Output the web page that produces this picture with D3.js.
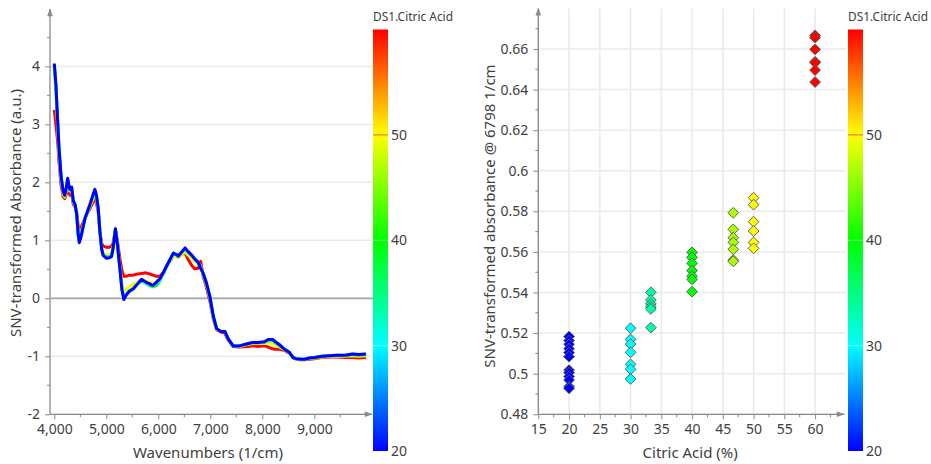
<!DOCTYPE html>
<html lang="en">
<head>
<meta charset="utf-8">
<title>Citric acid NIR spectra</title>
<script src="https://cdn.jsdelivr.net/npm/d3@7"></script>
<style>
  body { margin: 0; background: #fff; }
  svg text { font-family: "Segoe UI", "Noto Sans", sans-serif; fill: #404040; }
</style>
</head>
<body>
<script>
// ---- data ----
var wavenumbers = [4000,4030,4065,4090,4130,4170,4200,4230,4257,4280,4300,4333,4365,4400,4430,4460,4480,4510,4590,4685,
  4780,4810,4845,4877,4910,4940,5005,5060,5100,5130,5175,5215,5260,5300,5337,5380,5440,5516,5600,5677,
  5760,5837,5900,5965,6030,6100,6160,6230,6290,6340,6385,6450,6515,6580,6640,6700,6768,6815,6864,6928,
  6992,7056,7120,7200,7280,7345,7440,7560,7730,7817,7920,8042,8113,8200,8240,8330,8430,8520,8590,8650,
  8750,8815,8905,9010,9150,9289,9430,9590,9735,9850,9993];

var spec60 = [3.25,3.00,2.70,2.35,1.95, 1.75,1.72,1.80,1.90,1.82, 1.78,1.80,1.62,1.58,1.48, 1.25,1.18,1.22,1.38,1.55,
  1.72,1.65,1.48,1.15,0.95, 0.90,0.88,0.88,0.90,0.95, 1.18,0.98,0.70,0.48,0.38, 0.38,0.40,0.40,0.42,0.43,
  0.44,0.42,0.40,0.38,0.38, 0.45,0.55,0.65,0.74,0.72, 0.71,0.76,0.78,0.66,0.57, 0.51,0.52,0.64,0.38,0.18,
  -0.05,-0.35,-0.54,-0.58,-0.60, -0.72,-0.83,-0.84,-0.83,-0.82, -0.83,-0.82,-0.84,-0.87,-0.88, -0.88,-0.90,-0.95,-1.03,-1.05,
  -1.06,-1.06,-1.05,-1.04,-1.02, -1.01,-1.01,-1.02,-1.02,-1.03, -1.02];
var spec50 = [3.85,3.50,2.95,2.50,2.05, 1.80,1.75,1.85,2.00,1.90, 1.85,1.88,1.66,1.60,1.45, 1.15,1.05,1.12,1.38,1.58,
  1.80,1.72,1.52,1.15,0.88, 0.78,0.75,0.75,0.77,0.88, 1.18,0.92,0.55,0.25,0.12, 0.15,0.20,0.24,0.28,0.33,
  0.30,0.28,0.26,0.28,0.33, 0.44,0.55,0.66,0.74,0.72, 0.71,0.76,0.80,0.74,0.70, 0.64,0.58,0.56,0.41,0.23,
  0.00,-0.32,-0.53,-0.56,-0.56, -0.70,-0.82,-0.83,-0.79,-0.78, -0.78,-0.78,-0.77,-0.78,-0.81, -0.84,-0.89,-0.94,-1.03,-1.05,
  -1.05,-1.05,-1.04,-1.03,-1.01, -1.00,-1.00,-1.00,-0.99,-1.00, -0.99];
var spec40 = [4.00,3.65,3.02,2.58,2.10, 1.84,1.77,1.88,2.04,1.93, 1.87,1.90,1.67,1.61,1.45, 1.08,0.98,1.06,1.38,1.60,
  1.85,1.76,1.54,1.15,0.86, 0.75,0.71,0.72,0.74,0.87, 1.19,0.92,0.53,0.17,0.02, 0.07,0.13,0.17,0.24,0.30,
  0.26,0.22,0.20,0.22,0.30, 0.43,0.55,0.67,0.77,0.75, 0.72,0.79,0.85,0.78,0.73, 0.67,0.61,0.53,0.42,0.25,
  0.02,-0.31,-0.52,-0.57,-0.57, -0.70,-0.82,-0.82,-0.78,-0.77, -0.77,-0.76,-0.73,-0.73,-0.76, -0.82,-0.88,-0.93,-1.02,-1.04,
  -1.05,-1.05,-1.03,-1.02,-1.00, -0.99,-0.98,-0.99,-0.97,-0.98, -0.97];
var spec30 = [4.02,3.68,3.04,2.60,2.10, 1.85,1.78,1.89,2.05,1.94, 1.88,1.91,1.68,1.62,1.45, 1.09,0.97,1.05,1.38,1.61,
  1.86,1.77,1.55,1.15,0.85, 0.74,0.70,0.71,0.73,0.86, 1.20,0.92,0.52,0.16,0.00, 0.06,0.12,0.16,0.25,0.32,
  0.27,0.24,0.21,0.26,0.32, 0.44,0.56,0.68,0.78,0.76, 0.73,0.80,0.86,0.79,0.74, 0.68,0.62,0.53,0.43,0.26,
  0.03,-0.30,-0.52,-0.57,-0.57, -0.70,-0.82,-0.82,-0.78,-0.76, -0.76,-0.75,-0.72,-0.72,-0.75, -0.80,-0.88,-0.93,-1.02,-1.04,
  -1.05,-1.05,-1.03,-1.02,-1.00, -0.99,-0.98,-0.98,-0.96,-0.97, -0.96];
var spec20 = [4.05,3.70,3.05,2.60,2.10, 1.85,1.78,1.90,2.07,1.95, 1.88,1.92,1.68,1.62,1.45, 1.10,0.96,1.05,1.38,1.62,
  1.88,1.78,1.55,1.15,0.85, 0.74,0.69,0.70,0.72,0.86, 1.20,0.92,0.52,0.15,-0.02, 0.05,0.12,0.16,0.25,0.33,
  0.28,0.25,0.22,0.28,0.34, 0.45,0.56,0.68,0.78,0.76, 0.73,0.80,0.87,0.80,0.75, 0.68,0.62,0.52,0.43,0.26,
  0.03,-0.30,-0.52,-0.57,-0.57, -0.70,-0.82,-0.82,-0.78,-0.76, -0.76,-0.75,-0.71,-0.71,-0.74, -0.80,-0.88,-0.93,-1.02,-1.04,
  -1.05,-1.05,-1.03,-1.02,-1.00, -0.99,-0.98,-0.98,-0.96,-0.97, -0.96];
// drawn red first, blue last
var spectra = [[60, spec60], [50, spec50], [40, spec40], [30, spec30], [20, spec20]];

var acidLevels = [20, 30, 33.3, 40, 46.7, 50, 60];
var abs20 = [0.5183,0.5163,0.5145,0.5123,0.5104,0.5084,0.5018,0.5005,0.4986,0.4969,0.4936,0.4928];
var abs30 = [0.5224,0.5169,0.5146,0.5105,0.5046,0.5022,0.4974];
var abs33 = [0.5401,0.5363,0.5344,0.5330,0.5319,0.5227];
var abs40 = [0.5598,0.5573,0.5544,0.5508,0.5481,0.5465,0.5404];
var abs47 = [0.5793,0.5711,0.5670,0.5647,0.5613,0.5560,0.5554];
var abs50 = [0.5867,0.5833,0.5749,0.5703,0.5647,0.5618];
var abs60 = [0.6667,0.6656,0.6598,0.6537,0.6532,0.6496,0.6437];
var absGroups = [abs20, abs30, abs33, abs40, abs47, abs50, abs60];

var colorStops = [20, 30, 40, 50, 60];
var colorNames = ["#0000ff", "#00ffff", "#00ff00", "#ffff00", "#ff0000"];
var colorTicks = [20, 30, 40, 50];

// ---- page ----
var w = 931, h = 464;
var svg = d3.select("body").append("svg").attr("width", w).attr("height", h);

var color = d3.scaleLinear().domain(colorStops).range(colorNames);

svg.append("defs").append("marker")
   .attr("id", "arrow")
   .attr("viewBox", "0 0 10 10")
   .attr("refX", 9).attr("refY", 5)
   .attr("markerWidth", 14).attr("markerHeight", 8)
   .attr("markerUnits", "userSpaceOnUse")
   .attr("orient", "auto")
   .append("path")
   .attr("d", "M0,1.5 L10,5 L0,8.5 Z")
   .attr("fill", "#8a8a8a");

var grad = svg.select("defs").append("linearGradient")
   .attr("id", "jet").attr("x1", 0).attr("y1", 1).attr("x2", 0).attr("y2", 0);
grad.selectAll("stop").data(colorStops).enter().append("stop")
   .attr("offset", function(d) { return (d - 20) / 40; })
   .attr("stop-color", function(d) { return color(d); });

function numText(d) { return String(+d.toFixed(2)); }

// draw axes, grid, arrows for one panel
function panel(x, y, opt) {
  var g = svg.append("g");
  var x0 = x.range()[0], x1 = x.range()[1], y0 = y.range()[0], y1 = y.range()[1];

  if (opt.vgrid) {
    g.selectAll(".vg").data(opt.xTicks).enter().append("line")
     .attr("x1", function(d) { return x(d); }).attr("x2", function(d) { return x(d); })
     .attr("y1", y0).attr("y2", y1)
     .attr("stroke", "#e9e9e9").attr("stroke-width", 1.5);
  }
  g.selectAll(".hg").data(opt.yTicks).enter().append("line")
   .attr("x1", x0).attr("x2", x1 + 2)
   .attr("y1", function(d) { return y(d); }).attr("y2", function(d) { return y(d); })
   .attr("stroke", "#ebebeb").attr("stroke-width", 1.5);

  // minor ticks
  g.selectAll(".my").data(opt.yMinor).enter().append("line")
   .attr("x1", x0 - 3).attr("x2", x0)
   .attr("y1", function(d) { return y(d); }).attr("y2", function(d) { return y(d); })
   .attr("stroke", "#8a8a8a");
  g.selectAll(".mx").data(opt.xMinor).enter().append("line")
   .attr("x1", function(d) { return x(d); }).attr("x2", function(d) { return x(d); })
   .attr("y1", y0).attr("y2", y0 + 3)
   .attr("stroke", "#8a8a8a");

  var ax = g.append("g").attr("transform", "translate(0," + y0 + ")")
   .call(d3.axisBottom(x).tickValues(opt.xTicks).tickFormat(opt.xFormat).tickSize(5).tickPadding(5));
  var ay = g.append("g").attr("transform", "translate(" + x0 + ",0)")
   .call(d3.axisLeft(y).tickValues(opt.yTicks).tickFormat(opt.yFormat).tickSize(5).tickPadding(5));
  [ax, ay].forEach(function(a) {
    a.select(".domain").remove();
    a.selectAll("line").attr("stroke", "#8a8a8a");
    a.selectAll("text").attr("font-size", "14px").attr("fill", "#404040")
     .style("font-family", "'Segoe UI','Noto Sans',sans-serif");
  });

  g.append("line").attr("x1", x0).attr("x2", x1).attr("y1", y0).attr("y2", y0)
   .attr("stroke", "#8a8a8a").attr("stroke-width", 1.3).attr("marker-end", "url(#arrow)");
  g.append("line").attr("x1", x0).attr("x2", x0).attr("y1", y0).attr("y2", y1)
   .attr("stroke", "#8a8a8a").attr("stroke-width", 1.3).attr("marker-end", "url(#arrow)");

  svg.append("text").attr("x", (x0 + x1) / 2 + opt.xTitleDx).attr("y", 458)
   .attr("text-anchor", "middle").attr("font-size", "15px").text(opt.xTitle);
  svg.append("text").attr("transform", "translate(" + opt.yTitleX + "," + opt.yTitleY + ") rotate(-90)")
   .attr("text-anchor", "middle").attr("font-size", "15px").text(opt.yTitle);
  return g;
}

function colorbar(left) {
  var cy = d3.scaleLinear().domain([20, 60]).range([451, 29.5]);
  var g = svg.append("g");
  g.append("rect").attr("x", left).attr("y", cy(60)).attr("width", 15)
   .attr("height", cy(20) - cy(60)).attr("fill", "url(#jet)");
  g.selectAll(".ct").data(colorTicks.filter(function(d) { return d > 20; })).enter().append("line")
   .attr("x1", left).attr("x2", left + 15)
   .attr("y1", function(d) { return cy(d); }).attr("y2", function(d) { return cy(d); })
   .attr("stroke", function(d) { return d === 50 ? "#f05a3c" : "rgba(255,255,255,0.45)"; })
   .attr("stroke-width", 1);
  g.selectAll(".cl").data(colorTicks).enter().append("text")
   .attr("x", left + 18).attr("y", function(d) { return cy(d) + 5; })
   .attr("font-size", "14px").text(function(d) { return d; });
  g.append("text").attr("x", left).attr("y", 21).attr("font-size", "12px")
   .attr("textLength", 80).attr("lengthAdjust", "spacingAndGlyphs").text("DS1.Citric Acid");
}

// ---- left: spectra ----
var xL = d3.scaleLinear().domain([3917, 10110]).range([50, 372]);
var yL = d3.scaleLinear().domain([-2, 4.99]).range([414.3, 9]);

var gL = panel(xL, yL, {
  vgrid: false,
  xTicks: d3.range(4000, 9001, 1000), yTicks: d3.range(-2, 5, 1),
  xMinor: d3.range(4500, 10001, 1000), yMinor: d3.range(-1.5, 4.6, 1),
  xFormat: d3.format(","), yFormat: function(d) { return String(d); },
  xTitle: "Wavenumbers (1/cm)", xTitleDx: -3,
  yTitle: "SNV-transformed Absorbance (a.u.)", yTitleX: 21, yTitleY: 213
});

gL.append("line").attr("x1", xL.range()[0]).attr("x2", xL.range()[1] + 2)
  .attr("y1", yL(0)).attr("y2", yL(0)).attr("stroke", "#a9a9a9").attr("stroke-width", 1.6);

var line = d3.line()
  .x(function(d, i) { return xL(wavenumbers[i]); })
  .y(function(d) { return yL(d); });

svg.append("g").selectAll("path").data(spectra).enter().append("path")
  .attr("d", function(s) { return line(s[1]); })
  .attr("fill", "none")
  .attr("stroke", function(s) { return color(s[0]); })
  .attr("stroke-width", 3)
  .attr("stroke-linejoin", "round");

colorbar(373);

// ---- right: scatter ----
var xR = d3.scaleLinear().domain([15, 64.7]).range([538.3, 844]);
var yR = d3.scaleLinear().domain([0.48, 0.68]).range([414.3, 8.4]);

panel(xR, yR, {
  vgrid: true,
  xTicks: d3.range(15, 61, 5), yTicks: d3.range(0.48, 0.6601, 0.02).map(function(d) { return +d.toFixed(2); }),
  xMinor: d3.range(17.5, 64, 5), yMinor: d3.range(0.49, 0.68, 0.02),
  xFormat: function(d) { return String(d); }, yFormat: numText,
  xTitle: "Citric Acid (%)", xTitleDx: -1,
  yTitle: "SNV-transformed absorbance @ 6798 1/cm", yTitleX: 495, yTitleY: 216
});

var points = [];
absGroups.forEach(function(vals, gi) {
  vals.forEach(function(v) { points.push({ acid: acidLevels[gi], abs: v }); });
});

svg.append("g").selectAll("path").data(points).enter().append("path")
  .attr("d", d3.symbol().type(d3.symbolSquare).size(58))
  .attr("transform", function(d) { return "translate(" + xR(d.acid) + "," + yR(d.abs) + ") rotate(45)"; })
  .attr("fill", function(d) { return color(d.acid); })
  .attr("stroke", "#5a5a5a")
  .attr("stroke-width", 0.9);

colorbar(848);
</script>
</body>
</html>
